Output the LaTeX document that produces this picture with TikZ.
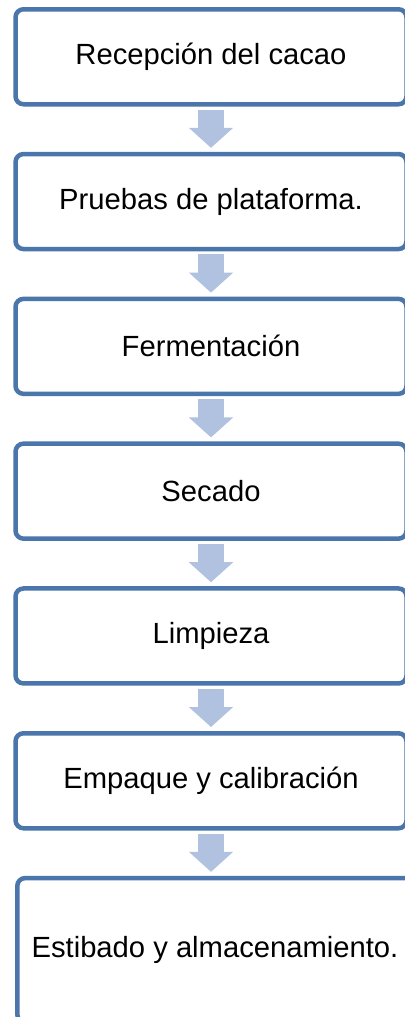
\documentclass[tikz,border=0pt]{standalone}
\usepackage{fontspec}
\setmainfont{Liberation Sans}
\usetikzlibrary{positioning}
\usetikzlibrary{arrows.meta}

\definecolor{bordeazul}{RGB}{74,118,172}
\definecolor{flechaazul}{RGB}{176,194,223}

\begin{document}
\begin{tikzpicture}[
    paso/.style={draw=bordeazul, line width=2.25pt, rounded corners=4pt, fill=white,
        minimum width=195.5pt, minimum height=47.5pt,
        font=\fontsize{14.6pt}{17pt}\selectfont},
    flecha/.style={draw=flechaazul, line width=13pt,
        -{Triangle[length=10pt, width=22pt, line width=1pt]},
        shorten <=1.5pt, shorten >=2pt}
]

    \useasboundingbox (0,0) rectangle (202pt,-508.5pt);

    \node[paso, anchor=north west] (recepcion) at (6.625pt,-3.5pt) {Recepción del cacao};
    \node[paso, below=22.65pt of recepcion] (pruebas) {Pruebas de plataforma.};
    \node[paso, below=22.65pt of pruebas] (fermentacion) {Fermentación};
    \node[paso, below=22.65pt of fermentacion] (secado) {Secado};
    \node[paso, below=22.65pt of secado] (limpieza) {Limpieza};
    \node[paso, below=22.65pt of limpieza] (empaque) {Empaque y calibración};
    \node[paso, below=22.65pt of empaque.south west, anchor=north west, xshift=0.875pt,
        minimum width=197.75pt, minimum height=72pt] (estibado) {Estibado y almacenamiento.};

    \draw[flecha] (recepcion) -- (pruebas);
    \draw[flecha] (pruebas) -- (fermentacion);
    \draw[flecha] (fermentacion) -- (secado);
    \draw[flecha] (secado) -- (limpieza);
    \draw[flecha] (limpieza) -- (empaque);
    \draw[flecha] (empaque.south) -- (empaque.south |- estibado.north);

\end{tikzpicture}
\end{document}
